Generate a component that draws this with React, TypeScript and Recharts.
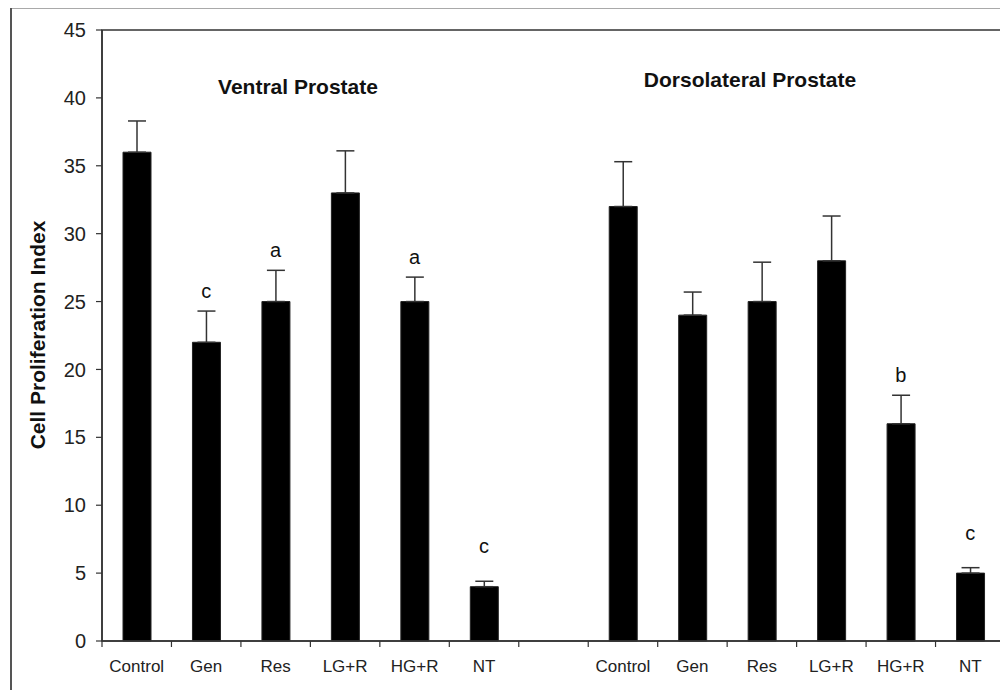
import React from 'react'
import { Bar, ComposedChart, ErrorBar, LabelList, Line, XAxis, YAxis } from 'recharts'

const categories = ['Control', 'Gen', 'Res', 'LG+R', 'HG+R', 'NT']

const ventralMean = [36, 22, 25, 33, 25, 4]
const ventralSem = [2.3, 2.3, 2.3, 3.1, 1.8, 0.4]
const ventralSig = ['', 'c', 'a', '', 'a', 'c']

const dorsalMean = [32, 24, 25, 28, 16, 5]
const dorsalSem = [3.3, 1.7, 2.9, 3.3, 2.1, 0.4]
const dorsalSig = ['', '', '', '', 'b', 'c']

const yTicks = [0, 5, 10, 15, 20, 25, 30, 35, 40, 45]

const FONT = '"Liberation Sans", Arial, Helvetica, sans-serif'
const AXIS = '#333'

// chart geometry (svg coords)
const W = 1000
const H = 682
const MARGIN = { top: 22, right: 3, bottom: 9, left: 34 }
const Y_AXIS_W = 60
const X_AXIS_H = 40

type Row = {
  label: string
  value: number | null
  err: [number, number] | null
  top: number | null
  sig: string
}

function buildRows(means: number[], sems: number[], sigs: string[]): Row[] {
  return categories.map((label, i) => ({
    label,
    value: means[i],
    err: [0, sems[i]],
    top: means[i] + sems[i],
    sig: sigs[i],
  }))
}

const data: Row[] = [
  ...buildRows(ventralMean, ventralSem, ventralSig),
  { label: '', value: null, err: null, top: null, sig: '' },
  ...buildRows(dorsalMean, dorsalSem, dorsalSig),
]

// x ticks sit on the category boundaries, not on the bar centres
function CategoryTick(props: any) {
  const { x, y, payload, index, visibleTicksCount } = props
  const half = payload?.offset ?? 0
  const axisY = y - 16
  const last = index === visibleTicksCount - 1
  return (
    <g>
      <line x1={x - half} x2={x - half} y1={axisY} y2={axisY + 6} stroke={AXIS} strokeWidth={1.2} />
      {last ? <line x1={x + half} x2={x + half} y1={axisY} y2={axisY + 6} stroke={AXIS} strokeWidth={1.2} /> : null}
      <text x={x} y={axisY + 31} textAnchor="middle" fontFamily={FONT} fontSize={17} fill="#222">
        {payload.value}
      </text>
    </g>
  )
}

function SigLabel(props: any) {
  const { x, y, value, index } = props
  if (!value || x == null || y == null) return null
  const lift = data[index]?.label === 'NT' ? 28 : 13
  return (
    <text x={x} y={y - lift} textAnchor="middle" fontFamily={FONT} fontSize={20} fill="#111">
      {value}
    </text>
  )
}

export default function App() {
  return (
    <div style={{ position: 'relative', width: W, height: H }}>
      <ComposedChart width={W} height={H} data={data} margin={MARGIN} barCategoryGap="30%">
        <XAxis
          dataKey="label"
          allowDuplicatedCategory
          height={X_AXIS_H}
          interval={0}
          tickSize={0}
          tickMargin={16}
          tickLine={false}
          axisLine={{ stroke: AXIS, strokeWidth: 1.5 }}
          tick={<CategoryTick />}
        />
        <YAxis
          type="number"
          domain={[0, 45]}
          ticks={yTicks}
          interval={0}
          width={Y_AXIS_W}
          tickSize={6}
          tickMargin={10}
          axisLine={{ stroke: AXIS, strokeWidth: 1.5 }}
          tickLine={{ stroke: AXIS, strokeWidth: 1.2 }}
          tick={{ fontFamily: FONT, fontSize: 20, fill: '#222' }}
        />
        <Bar dataKey="value" fill="#000" stroke="#222" strokeWidth={1} barSize={28} isAnimationActive={false}>
          <ErrorBar dataKey="err" direction="y" width={9} stroke="#333" strokeWidth={1.5} isAnimationActive={false} />
        </Bar>
        {/* invisible line: only carries the significance letters above the error bars */}
        <Line
          dataKey="top"
          stroke="none"
          dot={false}
          activeDot={false}
          legendType="none"
          isAnimationActive={false}
        >
          <LabelList dataKey="sig" content={<SigLabel />} />
        </Line>
      </ComposedChart>
      {/* frame + titles; sits 8px up/left to undo the body margin */}
      <svg
        width={W + 8}
        height={H + 8}
        style={{ position: 'absolute', left: -8, top: -8, pointerEvents: 'none', overflow: 'visible' }}
      >
        <rect x={11} y={7.5} width={1010} height={700} fill="none" stroke="#555" strokeWidth={2} />
        <rect
          x={8 + MARGIN.left + Y_AXIS_W}
          y={8 + MARGIN.top}
          width={W - MARGIN.left - Y_AXIS_W - MARGIN.right}
          height={H - MARGIN.top - MARGIN.bottom - X_AXIS_H}
          fill="none"
          stroke={AXIS}
          strokeWidth={1.5}
        />
        <text x={298} y={94} textAnchor="middle" fontFamily={FONT} fontSize={21} fontWeight="bold" fill="#111">
          Ventral Prostate
        </text>
        <text x={750} y={87} textAnchor="middle" fontFamily={FONT} fontSize={21} fontWeight="bold" fill="#111">
          Dorsolateral Prostate
        </text>
        <text
          x={45}
          y={335}
          transform="rotate(-90 45 335)"
          textAnchor="middle"
          fontFamily={FONT}
          fontSize={21}
          fontWeight="bold"
          fill="#111"
        >
          Cell Proliferation Index
        </text>
      </svg>
    </div>
  )
}
